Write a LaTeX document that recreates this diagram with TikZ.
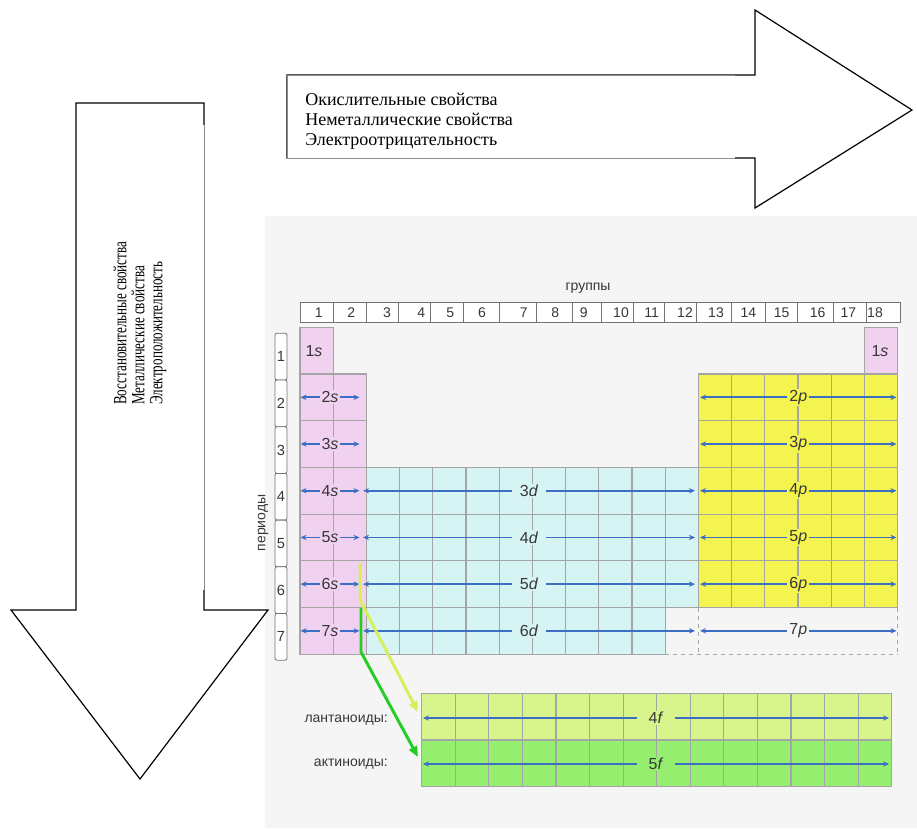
\documentclass[tikz,border=0pt]{standalone}
\usepackage{fontspec}
\setmainfont{Liberation Serif}
\setsansfont{Liberation Sans}
\usetikzlibrary{arrows.meta}

\definecolor{pagegray}{RGB}{245,245,245}
\definecolor{sblock}{RGB}{240,210,240}
\definecolor{dblock}{RGB}{214,244,244}
\definecolor{pblock}{RGB}{244,244,80}
\definecolor{lanth}{RGB}{216,244,140}
\definecolor{actin}{RGB}{150,238,110}
\definecolor{gridgray}{RGB}{165,165,165}
\definecolor{orbblue}{RGB}{60,110,195}
\definecolor{ltgreen}{RGB}{214,240,90}
\definecolor{dkgreen}{RGB}{35,205,35}
\definecolor{tabtext}{RGB}{55,55,55}

\def\cw{33.2}
\def\rh{46.7}
\def\fw{33.57}
\def\tabcell[#1](#2,#3){\draw[gridline, fill=#1] ({300+(#2-1)*\cw}, {327.3+(#3-1)*\rh}) rectangle +(\cw, \rh);}
\def\fcell[#1](#2,#3){\draw[gridline, fill=#1] ({421.7+(#2-1)*\fw}, {693.3+(#3-1)*\rh}) rectangle +(\fw, \rh);}

\tikzset{
	bigarrow/.style={draw=black, line width=0.9pt, fill=white},
	thinedge/.style={draw=black!45, line width=0.4pt},
	arrowtext/.style={align=left, inner sep=0pt, font=\fontsize{13.5}{15}\selectfont},
	gridline/.style={draw=gridgray, line width=0.8pt},
	hdrline/.style={draw=black!55, line width=0.6pt},
	tabfont/.style={text=tabtext, inner sep=0pt, font=\sffamily\fontsize{#1}{#1}\selectfont},
	orb/.style={<->, >={Stealth[length=4.5pt, width=4pt]}, draw=orbblue, line width=1.4pt},
	orblabel/.style={tabfont=12, inner xsep=1.5pt, inner ysep=1pt},
	fline/.style={line width=2.2pt, -{Triangle[length=8pt, width=6.5pt]}}
}

\begin{document}
\begin{tikzpicture}[x=0.75pt, y=-0.75pt]
		%%%%% START %%%%%
		\useasboundingbox (0,0) rectangle (917,828);
		
		\fill[pagegray] (265,216) rectangle (917,828);
		
		% right arrow
		\draw[bigarrow] (287,75) -- (755,75) -- (755,10) -- (912,110) -- (755,208) -- (755,158) -- (287,158) -- cycle;
		\fill[white] (287,75) rectangle (735,158);
		\draw[thinedge] (735,75) -- (287,75) -- (287,158) -- (735,158);
		\node[arrowtext, anchor=west] (oxtext) at (305,121) {Окислительные свойства\\Неметаллические свойства\\Электроотрицательность};
		
		% left arrow
		\draw[bigarrow] (76,103) -- (204,103) -- (204,610) -- (268,610) -- (140,779) -- (11,610) -- (76,610) -- cycle;
		\fill[white] (180,125) rectangle (204,590);
		\draw[thinedge] (204,125) -- (204,590);
		\node[arrowtext, rotate=90, anchor=west, xscale=0.7, font=\fontsize{14}{13.5}\selectfont] (redtext) at (140,405) {Восстановительные свойства\\Металлические свойства\\Электроположительность};
		
		% groups
		\node[tabfont=10.5] (groups) at (588,288) {группы};
		\draw[hdrline, fill=white] (300.3,302.7) rectangle (900,322.7);
		\foreach \x in {333,366.3,398.7,430.3,463.7,499.7,536,572,601,633.3,664.3,696.7,731.7,765,797.7,833.3,866.7} {
			\draw[hdrline] (\x,302.7) -- (\x,322.7);
		}
		\foreach \n/\x in {1/318.7,2/351.3,3/387,4/421.3,5/450.3,6/482,7/523.7,8/555.3,9/583.7,10/621,11/651.7,12/685,13/716,14/748.3,15/781.7,16/817.7,17/848.3,18/875} {
			\node[tabfont=10.5] (g\n) at (\x,313) {\n};
		}
		
		% periods
		\node[tabfont=10.5, rotate=90] (periods) at (263,523) {периоды};
		\foreach \pr in {1,...,7} {
			\draw[hdrline, fill=white, rounded corners=1.5pt] (275, {333.3+(\pr-1)*\rh}) rectangle +(12, \rh);
			\node[tabfont=11] (per\pr) at (281, {333.3+(\pr-0.5)*\rh}) {\pr};
		}
		
		% cells
		\tabcell[sblock](1,1)
		\tabcell[sblock](18,1)
		\foreach \pr in {2,...,7} {
			\foreach \gr in {1,2} {\tabcell[sblock](\gr,\pr)}
		}
		\foreach \pr in {4,5,6} {
			\foreach \gr in {3,...,12} {\tabcell[dblock](\gr,\pr)}
		}
		\foreach \gr in {3,...,11} {\tabcell[dblock](\gr,7)}
		\foreach \pr in {2,...,6} {
			\foreach \gr in {13,...,18} {\tabcell[pblock](\gr,\pr)}
		}
		\draw[gridline, dashed] (665.2,654.2) -- (897.6,654.2);
		\draw[gridline, dashed] (698.4,607.5) -- (698.4,654.2);
		\draw[gridline, dashed] (897.6,607.5) -- (897.6,654.2);
		
		% orbitals
		\node[orblabel] (s1a) at (314,351) {1\textit{s}};
		\node[orblabel] (s1b) at (880,351) {1\textit{s}};
		\foreach \pr in {2,...,7} {
			\draw[orb] (300.5, {327.3+(\pr-0.5)*\rh}) -- node[orblabel, fill=sblock] (s\pr) {\pr\textit{s}} (359.5, {327.3+(\pr-0.5)*\rh});
		}
		\foreach \pr/\n in {4/3,5/4,6/5,7/6} {
			\draw[orb] (363, {327.3+(\pr-0.5)*\rh}) -- node[orblabel, fill=dblock, inner xsep=6pt] (d\n) {\n\textit{d}} (695, {327.3+(\pr-0.5)*\rh});
		}
		\foreach \pr/\f in {2/pblock,3/pblock,4/pblock,5/pblock,6/pblock,7/pagegray} {
			\draw[orb] (700, {327.3+(\pr-0.5)*\rh}) -- node[orblabel, fill=\f] (p\pr) {\pr\textit{p}} (896.5, {327.3+(\pr-0.5)*\rh});
		}
		
		% lanthanides, actinides
		\foreach \gr in {1,...,14} {
			\fcell[lanth](\gr,1)
			\fcell[actin](\gr,2)
		}
		\node[tabfont=10.5, anchor=east] (lanthlabel) at (388,720) {лантаноиды:};
		\node[tabfont=10.5, anchor=east] (actinlabel) at (388,764) {актиноиды:};
		\draw[orb] (423,718) -- node[orblabel, fill=lanth, inner xsep=9pt] (f4) {4\textit{f}} (889,718);
		\draw[orb] (423,764) -- node[orblabel, fill=actin, inner xsep=9pt] (f5) {5\textit{f}} (889,764);
		
		\coordinate (lanthtip) at (418,712);
		\coordinate (actintip) at (418,757);
		\draw[fline, ltgreen] (360,563) -- (360,600) -- (lanthtip);
		\draw[fline, dkgreen] (361,608) -- (361,652) -- (actintip);
		
		%%%%% END %%%%%
	\end{tikzpicture}
\end{document}
